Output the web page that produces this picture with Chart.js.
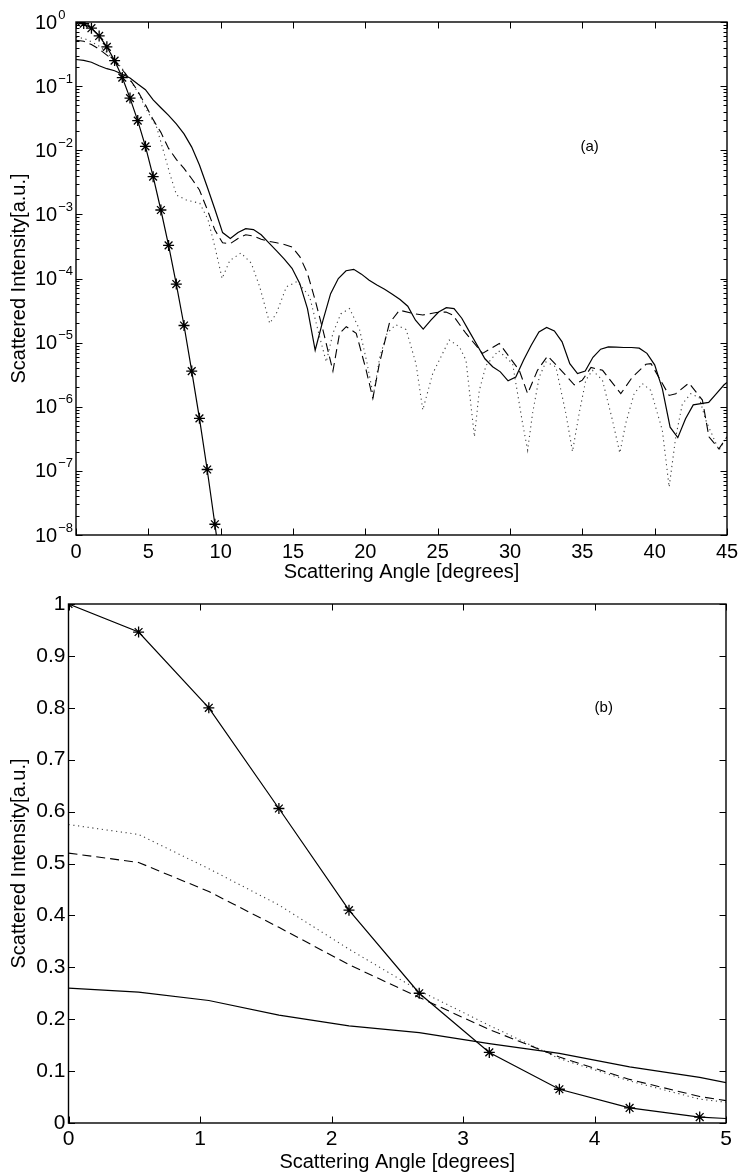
<!DOCTYPE html>
<html>
<head>
<meta charset="utf-8">
<script src="https://cdn.jsdelivr.net/npm/chart.js@4.4.1/dist/chart.umd.min.js"></script>
<style>
  html, body { margin: 0; padding: 0; background: #fff; }
  #wrap { position: relative; width: 740px; height: 1176px; }
  canvas { position: absolute; left: 0; }
  #chartA { top: 0; }
  #chartB { top: 580px; }
</style>
</head>
<body>
<div id="wrap">
  <canvas id="chartA" width="740" height="600" style="width:740px;height:600px"></canvas>
  <canvas id="chartB" width="740" height="596" style="width:740px;height:596px"></canvas>
</div>
<script>
// Scattered intensity vs scattering angle

// common sampling grid (degrees) used by the solid curve and the starred curve
const gridAngles = [0, 0.533, 1.067, 1.6, 2.133, 2.667, 3.2, 3.733, 4.267, 4.8,
  5.333, 5.867, 6.4, 6.933, 7.467, 8, 8.533, 9.067, 9.6, 10.133,
  10.667, 11.2, 11.733, 12.267, 12.8, 13.333, 13.867, 14.4, 14.933, 15.467,
  16, 16.533, 17.067, 17.6, 18.133, 18.667, 19.2, 19.733, 20.267, 20.8,
  21.333, 21.867, 22.4, 22.933, 23.467, 24, 24.533, 25.067, 25.6, 26.133,
  26.667, 27.2, 27.733, 28.267, 28.8, 29.333, 29.867, 30.4, 30.933, 31.467,
  32, 32.533, 33.067, 33.6, 34.133, 34.667, 35.2, 35.733, 36.267, 36.8,
  37.333, 37.867, 38.4, 38.933, 39.467, 40, 40.533, 41.067, 41.6, 42.133,
  42.667, 43.2, 43.733, 44.267, 44.8, 45];

const solidValues = [0.26, 0.252, 0.236, 0.208, 0.187, 0.174, 0.153, 0.134, 0.108, 0.088,
  0.061, 0.046, 0.035, 0.0258, 0.018, 0.0112, 0.0059, 0.0027, 0.0012, 5.2e-4,
  4.2e-4, 5.2e-4, 6.0e-4, 5.8e-4, 4.8e-4, 3.6e-4, 2.7e-4, 2.0e-4, 1.44e-4, 8.4e-5,
  3.4e-5, 7.6e-6, 2.2e-5, 5.8e-5, 1.0e-4, 1.32e-4, 1.39e-4, 1.17e-4, 9.4e-5, 7.9e-5,
  6.8e-5, 5.7e-5, 4.7e-5, 3.7e-5, 2.24e-5, 1.62e-5, 2.24e-5, 3.0e-5, 3.5e-5, 3.4e-5,
  2.4e-5, 1.47e-5, 9.1e-6, 5.6e-6, 4.2e-6, 3.5e-6, 2.54e-6, 2.9e-6, 5.3e-6, 9.1e-6,
  1.47e-5, 1.73e-5, 1.52e-5, 1.03e-5, 4.7e-6, 3.3e-6, 3.6e-6, 5.9e-6, 7.9e-6, 8.6e-6,
  8.5e-6, 8.4e-6, 8.4e-6, 8.2e-6, 6.8e-6, 4.5e-6, 1.9e-6, 4.8e-7, 3.3e-7, 6.5e-7,
  1.07e-6, 1.12e-6, 1.17e-6, 1.6e-6, 2.2e-6, 2.4e-6];

// starred curve: first 20 grid angles (last one falls below the axis)
const starAngles = gridAngles.slice(0, 20);
const starValues = [1, 0.946, 0.80, 0.606, 0.41, 0.25, 0.136, 0.065, 0.029, 0.0115,
  0.00387, 0.00117, 3.28e-4, 8.2e-5, 1.85e-5, 3.6e-6, 6.6e-7, 1.05e-7, 1.47e-8, 2e-9];

const dashedAngles = [0, 0.533, 1.067, 1.6, 2.133, 2.667, 3.2, 3.733, 4.267, 4.8,
  5.333, 5.867, 6.4, 6.933, 7.467, 8, 8.533, 9.067, 9.6, 10.133,
  10.667, 11.2, 11.733, 12.267, 12.8, 13.333, 13.867, 14.4, 14.933, 15.467,
  16, 16.533, 17.067, 17.76, 18.22, 18.68, 19.37, 20.06, 20.52, 20.97,
  21.66, 22.36, 23.28, 23.97, 24.9, 25.58, 26.04, 26.96, 28.1, 29.26,
  30.64, 31.22, 31.9, 32.6, 33.4, 34.44, 35.0, 35.6, 36.4, 37.66,
  38.46, 39.4, 39.75, 41.0, 41.46, 42.37, 43.3, 43.75, 44.44, 45];
const dashedValues = [0.52, 0.502, 0.446, 0.377, 0.305, 0.242, 0.18, 0.127, 0.084, 0.051,
  0.03, 0.019, 0.0107, 0.0072, 0.0052, 0.0036, 0.0024, 0.0012, 5.7e-4, 3.6e-4,
  3.5e-4, 4.2e-4, 4.8e-4, 4.6e-4, 4.1e-4, 3.8e-4, 3.6e-4, 3.4e-4, 3.1e-4, 2.2e-4,
  1.2e-4, 4.6e-5, 1.58e-5, 3.6e-6, 1.4e-5, 1.77e-5, 1.4e-5, 3.7e-6, 1.35e-6, 4.7e-6,
  2.0e-5, 3.2e-5, 2.85e-5, 2.7e-5, 2.95e-5, 3.0e-5, 2.7e-5, 1.39e-5, 6.8e-6, 9.7e-6,
  3.7e-6, 1.6e-6, 3.7e-6, 6.2e-6, 4.0e-6, 2.2e-6, 2.6e-6, 4.1e-6, 3.7e-6, 1.6e-6,
  2.9e-6, 4.6e-6, 4.7e-6, 1.5e-6, 1.6e-6, 2.35e-6, 1.27e-6, 3.4e-7, 2.2e-7, 3.4e-7];

const dottedAngles = [0, 0.533, 1.067, 1.6, 2.133, 2.667, 3.2, 3.733, 4.267, 4.8,
  5.57, 6.03, 6.5, 6.95, 7.64, 8.56, 9.13, 9.59, 10.1, 10.63,
  11.4, 12.12, 12.7, 13.39, 13.85, 14.54, 15.3, 16.15, 16.84, 17.3,
  17.76, 18.3, 18.91, 19.6, 20.1, 20.55, 21.0, 21.5, 22.1, 22.82,
  23.5, 23.97, 24.66, 25.8, 26.5, 26.96, 27.54, 27.88, 28.34, 29.2,
  30.18, 30.87, 31.22, 31.56, 32.02, 32.48, 33.17, 33.86, 34.32, 34.78,
  35.24, 35.7, 36.39, 37.08, 37.59, 38.0, 38.58, 39.15, 39.73, 40.53,
  41.0, 41.46, 41.91, 42.49, 43.07, 43.53, 44.44, 45];
const dottedValues = [0.575, 0.556, 0.49, 0.42, 0.335, 0.255, 0.188, 0.124, 0.081, 0.046,
  0.023, 0.01, 0.0042, 0.002, 0.00167, 0.00149, 8.2e-4, 3.2e-4, 1.0e-4, 1.9e-4,
  2.5e-4, 1.73e-4, 7.4e-5, 2.0e-5, 2.85e-5, 7.4e-5, 9.0e-5, 5.2e-5, 1.23e-5, 5.0e-6,
  1.4e-5, 2.8e-5, 3.4e-5, 1.6e-5, 5e-6, 1.5e-6, 6e-6, 1.4e-5, 1.9e-5, 1.6e-5,
  4.7e-6, 8.9e-7, 3.3e-6, 1.1e-5, 8.6e-6, 5.3e-6, 3.4e-7, 1.8e-6, 4.4e-6, 7.5e-6,
  4.7e-6, 5.5e-7, 2.1e-7, 7.9e-7, 2.9e-6, 5.0e-6, 4.2e-6, 7.9e-7, 2.0e-7, 7.9e-7,
  2.6e-6, 3.7e-6, 2.6e-6, 6.2e-7, 1.9e-7, 5.5e-7, 1.6e-6, 2.3e-6, 1.8e-6, 4.3e-7,
  5.6e-8, 3.4e-7, 1.1e-6, 1.6e-6, 1.4e-6, 6.2e-7, 2.1e-7, 3.4e-7];

// axis ticks
const xTicksA = [0, 5, 10, 15, 20, 25, 30, 35, 40, 45];
const yDecadesA = [1e-8, 1e-7, 1e-6, 1e-5, 1e-4, 1e-3, 1e-2, 1e-1, 1];
const xTicksB = [0, 1, 2, 3, 4, 5];
const yTicksB = [0, 0.1, 0.2, 0.3, 0.4, 0.5, 0.6, 0.7, 0.8, 0.9, 1];

const FONT = '"Liberation Sans", Arial, Helvetica, sans-serif';
const TICK = 6.5, MINOR = 3.5;

function pts(xs, ys) { return xs.map((x, i) => ({ x, y: ys[i] })); }

// MATLAB-like box, inward ticks, labels and titles
const axesFrame = {
  id: 'axesFrame',
  afterDraw(chart, args, o) {
    const { ctx, chartArea: a } = chart;
    const xs = chart.scales.x, ys = chart.scales.y;
    ctx.save();
    ctx.strokeStyle = '#000';
    ctx.lineWidth = 1.4;
    ctx.strokeRect(a.left, a.top, a.right - a.left, a.bottom - a.top);
    ctx.lineWidth = 1;
    ctx.beginPath();
    o.xTicks.forEach(t => {
      const px = Math.round(xs.getPixelForValue(t)) + 0.5;
      ctx.moveTo(px, a.bottom); ctx.lineTo(px, a.bottom - TICK);
      ctx.moveTo(px, a.top); ctx.lineTo(px, a.top + TICK);
    });
    o.yTicks.forEach(t => {
      const py = Math.round(ys.getPixelForValue(t)) + 0.5;
      ctx.moveTo(a.left, py); ctx.lineTo(a.left + TICK, py);
      ctx.moveTo(a.right, py); ctx.lineTo(a.right - TICK, py);
    });
    if (o.logY) {
      o.yTicks.slice(0, -1).forEach(d => {
        for (let m = 2; m <= 9; m++) {
          const py = Math.round(ys.getPixelForValue(d * m)) + 0.5;
          ctx.moveTo(a.left, py); ctx.lineTo(a.left + MINOR, py);
          ctx.moveTo(a.right, py); ctx.lineTo(a.right - MINOR, py);
        }
      });
    }
    ctx.stroke();

    ctx.fillStyle = '#000';
    ctx.textBaseline = 'middle';
    ctx.textAlign = 'center';
    ctx.font = o.tickSize + 'px ' + FONT;
    o.xTicks.forEach(t => ctx.fillText(String(t), xs.getPixelForValue(t), a.bottom + o.xLabelGap));

    if (o.logY) {
      o.yTicks.forEach(t => {
        const py = ys.getPixelForValue(t);
        const e = Math.round(Math.log10(t));
        const lx = a.left - 41;
        ctx.textAlign = 'left';
        ctx.font = o.tickSize + 'px ' + FONT;
        ctx.fillText('10', lx, py + 1);
        const w = ctx.measureText('10').width;
        ctx.font = o.expSize + 'px ' + FONT;
        ctx.fillText(e === 0 ? '0' : '\u2212' + (-e), lx + w + 1, py - 7);
      });
    } else {
      ctx.textAlign = 'right';
      o.yTicks.forEach(t => ctx.fillText(String(t), a.left - 3, ys.getPixelForValue(t)));
    }

    ctx.textAlign = 'center';
    ctx.font = o.titleSize + 'px ' + FONT;
    ctx.fillText(o.xTitle, (a.left + a.right) / 2, a.bottom + o.xTitleGap);
    ctx.save();
    ctx.translate(19, (a.top + a.bottom) / 2);
    ctx.rotate(-Math.PI / 2);
    ctx.fillText(o.yTitle, 0, 0);
    ctx.restore();

    ctx.font = o.tagSize + 'px ' + FONT;
    ctx.fillText(o.tag.text, xs.getPixelForValue(o.tag.x), ys.getPixelForValue(o.tag.y));
    ctx.restore();
  }
};

function datasets() {
  return [
    { data: pts(gridAngles, solidValues), borderColor: '#000', borderWidth: 1.2, pointRadius: 0 },
    { data: pts(dashedAngles, dashedValues), borderColor: '#000', borderWidth: 1.1, borderDash: [9, 5], pointRadius: 0 },
    { data: pts(dottedAngles, dottedValues), borderColor: 'rgba(0,0,0,0.75)', borderWidth: 1.1, borderDash: [1.2, 3.6], pointRadius: 0 },
    { data: pts(starAngles, starValues), borderColor: '#000', borderWidth: 1.2,
      pointStyle: 'star', pointRadius: 5.5, pointBorderWidth: 1.3, pointBorderColor: '#000', pointBackgroundColor: '#000' }
  ];
}

function makeChart(id, padding, xRange, yScale, frame) {
  return new Chart(document.getElementById(id), {
    type: 'line',
    data: { datasets: datasets() },
    options: {
      responsive: false,
      animation: false,
      events: [],
      layout: { padding },
      elements: { line: { tension: 0, fill: false } },
      scales: {
        x: Object.assign({ type: 'linear', display: false }, xRange),
        y: Object.assign({ display: false }, yScale)
      },
      plugins: { legend: { display: false }, tooltip: { enabled: false }, axesFrame: frame }
    },
    plugins: [axesFrame]
  });
}

// top panel: canvas is 600 tall so the axis title is not cut; panel (b) canvas overlaps it transparently
makeChart('chartA', { left: 76, top: 22, right: 13, bottom: 65 },
  { min: 0, max: 45 },
  { type: 'logarithmic', min: 1e-8, max: 1 },
  { xTicks: xTicksA, yTicks: yDecadesA, logY: true, tickSize: 20, expSize: 13, titleSize: 20,
    xLabelGap: 17, xTitleGap: 37, xTitle: 'Scattering Angle [degrees]',
    yTitle: 'Scattered Intensity[a.u.]', tagSize: 15, tag: { text: '(a)', x: 35.5, y: 0.0114 } });

makeChart('chartB', { left: 68.5, top: 24, right: 14, bottom: 53 },
  { min: 0, max: 5 },
  { type: 'linear', min: 0, max: 1 },
  { xTicks: xTicksB, yTicks: yTicksB, logY: false, tickSize: 21, titleSize: 20,
    xLabelGap: 16, xTitleGap: 39, xTitle: 'Scattering Angle [degrees]',
    yTitle: 'Scattered Intensity[a.u.]', tagSize: 15, tag: { text: '(b)', x: 4.07, y: 0.80 } });
</script>
</body>
</html>
